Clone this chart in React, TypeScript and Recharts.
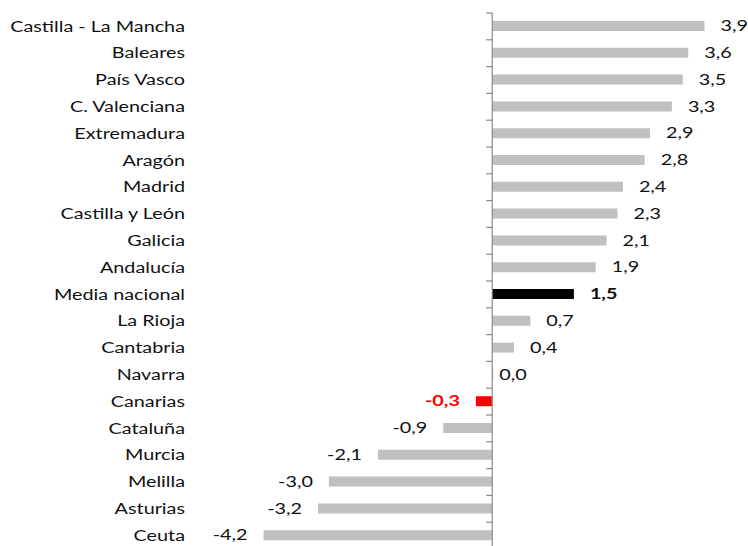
import { BarChart, Bar, XAxis, YAxis, Cell, LabelList, ReferenceLine } from 'recharts';

const regions = [
  'Castilla - La Mancha', 'Baleares', 'País Vasco', 'C. Valenciana', 'Extremadura',
  'Aragón', 'Madrid', 'Castilla y León', 'Galicia', 'Andalucía',
  'Media nacional', 'La Rioja', 'Cantabria', 'Navarra', 'Canarias',
  'Cataluña', 'Murcia', 'Melilla', 'Asturias', 'Ceuta',
];
const changes = [3.9, 3.6, 3.5, 3.3, 2.9, 2.8, 2.4, 2.3, 2.1, 1.9, 1.5, 0.7, 0.4, 0.0, -0.3, -0.9, -2.1, -3.0, -3.2, -4.2];

const nationalName = 'Media nacional';
const highlightName = 'Canarias';

const FONT = 'Lato, "DejaVu Sans", sans-serif';
const STRETCH = 1.32; // the original text is set wide
const GREY = '#c0c0c0';
const AXIS = '#888888';
const TEXT = '#111111';

const data = regions.map((name, i) => ({ name, value: changes[i] }));

const fmt = (v: number) => v.toFixed(1).replace('.', ',');

function barColor(name: string) {
  if (name === nationalName) return '#000000';
  if (name === highlightName) return '#ff0000';
  return GREY;
}

// zero axis with small tick marks between the categories
function ZeroAxis(props: any) {
  const { x1, y1, y2 } = props;
  const n = regions.length;
  const step = (y2 - y1) / n;
  return (
    <g>
      <line x1={x1} y1={y1} x2={x1} y2={y2} stroke={AXIS} strokeWidth={1.2} />
      {Array.from({ length: n + 1 }).map((_, i) => (
        <line key={i} x1={x1 - 6} x2={x1} y1={y1 + i * step} y2={y1 + i * step} stroke={AXIS} strokeWidth={1.2} />
      ))}
    </g>
  );
}

function CategoryTick(props: any) {
  const { x, y, payload } = props;
  return (
    <text
      transform={`translate(${x} ${y}) scale(${STRETCH} 1)`}
      dy="0.35em"
      textAnchor="end"
      fontFamily={FONT}
      fontSize={15}
      fill={TEXT}
    >
      {payload.value}
    </text>
  );
}

function ValueLabel(props: any) {
  const { x, y, width, height, value, index } = props;
  const name = regions[index];
  const left = Math.min(x, x + width);
  const right = Math.max(x, x + width);
  const neg = value < 0;
  const gap = value === 0 ? 6 : 16;
  const bold = name === nationalName || name === highlightName;
  const tx = neg ? left - gap : right + gap;
  return (
    <text
      transform={`translate(${tx} ${y + height / 2}) scale(${STRETCH} 1)`}
      dy="0.35em"
      textAnchor={neg ? 'end' : 'start'}
      fontFamily={FONT}
      fontSize={15}
      fontWeight={bold ? 700 : 400}
      fill={name === highlightName ? '#ff0000' : TEXT}
    >
      {fmt(value)}
    </text>
  );
}

export default function App() {
  return (
    <div style={{ position: 'absolute', left: 0, top: 0, width: 748, height: 546, overflow: 'hidden', background: '#fff' }}>
      <BarChart
        width={748}
        height={552}
        data={data}
        layout="vertical"
        margin={{ top: 13, right: 38, left: 0, bottom: 3 }}
      >
        <XAxis type="number" domain={[-5, 4]} hide />
        <YAxis
          type="category"
          dataKey="name"
          width={220}
          axisLine={false}
          tickLine={false}
          tickSize={0}
          tickMargin={35}
          interval={0}
          tick={CategoryTick}
        />
        <Bar dataKey="value" barSize={10} minPointSize={1} isAnimationActive={false}>
          {data.map((d, i) => (
            <Cell key={`cell-${i}`} fill={barColor(d.name)} />
          ))}
          <LabelList dataKey="value" content={ValueLabel} />
        </Bar>
        <ReferenceLine x={0} shape={ZeroAxis} />
      </BarChart>
    </div>
  );
}
